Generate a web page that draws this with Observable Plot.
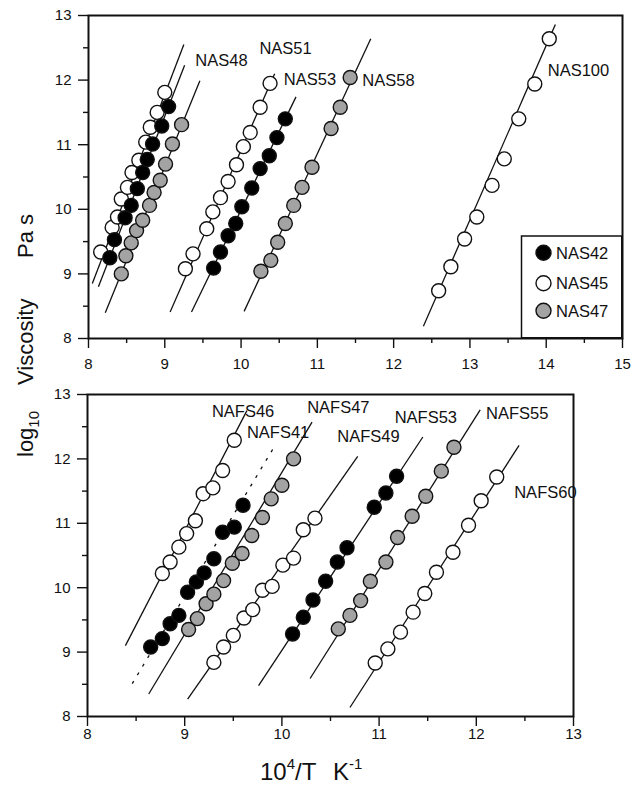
<!DOCTYPE html>
<html><head><meta charset="utf-8">
<script src="https://cdn.jsdelivr.net/npm/d3@7"></script>
<script src="https://cdn.jsdelivr.net/npm/@observablehq/plot@0.6"></script>
<style>
body{margin:0;background:#fff;font-family:"Liberation Sans",Arial,sans-serif;}
#wrap{position:relative;width:632px;height:785px;overflow:hidden;background:#fff}
#top{position:absolute;left:0;top:0}
#bot{position:absolute;left:0;top:368px}
#anno{position:absolute;left:0;top:0;pointer-events:none}
</style></head><body>
<div id="wrap"><div id="top"></div><div id="bot"></div>
<svg id="anno" width="632" height="785" font-family="Liberation Sans, Arial, sans-serif"></svg>
</div>
<script>
// ---------- top panel data (10^4/T, log10 viscosity) ----------
const NAS42 = [[8.28,9.25],[8.34,9.53],[8.48,9.87],[8.56,10.06],[8.64,10.32],[8.71,10.57],[8.77,10.77],[8.84,11.01],[8.96,11.29],[9.05,11.59]];
const NAS45 = [[8.16,9.34],[8.31,9.72],[8.38,9.88],[8.43,10.16],[8.51,10.34],[8.57,10.57],[8.66,10.76],[8.75,11.04],[8.81,11.27],[8.90,11.50],[9.00,11.81]];
const NAS47 = [[8.43,9.00],[8.49,9.28],[8.56,9.48],[8.63,9.67],[8.71,9.83],[8.80,10.06],[8.86,10.26],[8.94,10.45],[9.01,10.70],[9.10,11.01],[9.22,11.31]];
const NAS51 = [[9.27,9.08],[9.37,9.31],[9.55,9.70],[9.63,9.96],[9.73,10.18],[9.83,10.43],[9.94,10.69],[10.03,10.97],[10.12,11.19],[10.25,11.58],[10.38,11.95]];
const NAS53 = [[9.64,9.09],[9.73,9.34],[9.83,9.59],[9.93,9.78],[10.01,10.04],[10.14,10.33],[10.25,10.63],[10.37,10.83],[10.47,11.11],[10.58,11.40]];
const NAS58 = [[10.26,9.04],[10.39,9.21],[10.48,9.49],[10.58,9.78],[10.69,10.06],[10.80,10.34],[10.93,10.65],[11.18,11.25],[11.30,11.58],[11.43,12.04]];
const NAS100 = [[12.59,8.74],[12.75,9.11],[12.93,9.54],[13.09,9.88],[13.29,10.37],[13.45,10.78],[13.64,11.40],[13.85,11.94],[14.04,12.64]];
const topSeries = [
  {name:"NAS45", kind:"open",  pts:NAS45},
  {name:"NAS47", kind:"grey",  pts:NAS47},
  {name:"NAS42", kind:"solid", pts:NAS42},
  {name:"NAS51", kind:"open",  pts:NAS51},
  {name:"NAS53", kind:"solid", pts:NAS53},
  {name:"NAS58", kind:"grey",  pts:NAS58},
  {name:"NAS100",kind:"open",  pts:NAS100}
];
// fitted lines: [x1, y1, x2, y2]
const topFits = [
  [8.05,8.85,9.25,12.55],
  [8.13,8.80,9.26,12.23],
  [8.22,8.40,9.46,11.99],
  [9.07,8.41,10.44,12.10],
  [9.35,8.41,10.72,11.74],
  [10.04,8.42,11.70,12.64],
  [12.39,8.19,14.12,12.86]
];
const topLabels = [["NAS48",9.40,12.30],["NAS51",10.24,12.49],["NAS53",10.56,12.01],["NAS58",11.59,11.99],["NAS100",14.02,12.15]];
const topXTicks = [8,9,10,11,12,13,14,15];

// ---------- bottom panel data ----------
const NAFS46 = [[8.77,10.22],[8.85,10.40],[8.94,10.63],[9.02,10.84],[9.11,11.04],[9.19,11.46],[9.29,11.55],[9.39,11.82],[9.51,12.29]];
const NAFS41 = [[8.65,9.08],[8.77,9.21],[8.85,9.44],[8.94,9.57],[9.03,9.93],[9.12,10.09],[9.20,10.23],[9.30,10.45],[9.39,10.86],[9.51,10.94],[9.60,11.28]];
const NAFS47 = [[9.04,9.35],[9.13,9.52],[9.22,9.75],[9.30,9.90],[9.40,10.11],[9.49,10.38],[9.59,10.53],[9.69,10.81],[9.80,11.09],[9.89,11.38],[10.00,11.59],[10.12,12.00]];
const NAFS49 = [[9.30,8.84],[9.40,9.08],[9.50,9.26],[9.61,9.53],[9.70,9.66],[9.80,9.96],[9.90,10.02],[10.01,10.35],[10.12,10.46],[10.22,10.90],[10.34,11.08]];
const NAFS53 = [[10.11,9.28],[10.22,9.54],[10.32,9.81],[10.45,10.10],[10.57,10.40],[10.67,10.62],[10.95,11.25],[11.07,11.47],[11.18,11.73]];
const NAFS55 = [[10.58,9.36],[10.70,9.57],[10.81,9.80],[10.91,10.10],[11.07,10.40],[11.19,10.78],[11.34,11.11],[11.48,11.42],[11.64,11.81],[11.77,12.18]];
const NAFS60 = [[10.96,8.83],[11.09,9.05],[11.22,9.31],[11.35,9.62],[11.47,9.91],[11.59,10.24],[11.76,10.55],[11.92,10.97],[12.05,11.35],[12.21,11.72]];
const botSeries = [
  {name:"NAFS46", kind:"open",  pts:NAFS46},
  {name:"NAFS41", kind:"solid", pts:NAFS41},
  {name:"NAFS47", kind:"grey",  pts:NAFS47},
  {name:"NAFS49", kind:"open",  pts:NAFS49},
  {name:"NAFS53", kind:"solid", pts:NAFS53},
  {name:"NAFS55", kind:"grey",  pts:NAFS55},
  {name:"NAFS60", kind:"open",  pts:NAFS60}
];
const botFits = [
  [8.39,9.10,9.64,12.75],
  [8.63,8.35,10.31,12.57],
  [9.03,8.27,10.78,12.04],
  [9.76,8.48,11.45,12.34],
  [10.29,8.59,12.04,12.76],
  [10.70,8.14,12.44,12.21]
];
const botDotted = [[8.46,8.51,9.93,12.21]];
const botLabels = [["NAFS46",9.28,12.73],["NAFS41",9.64,12.41],["NAFS47",10.26,12.80],["NAFS49",10.57,12.34],["NAFS53",11.16,12.64],["NAFS55",12.10,12.70],["NAFS60",12.39,11.47]];
const botXTicks = [8,9,10,11,12,13];
const yTicks = [8,9,10,11,12,13];
const legendItems = [["NAS42","solid"],["NAS45","open"],["NAS47","grey"]];

const FILL = {solid:"#000000", open:"#ffffff", grey:"#a3a3a3"};
const FONT = "Liberation Sans, Arial, sans-serif";

function rows(series){ return series.flatMap(s => s.pts.map(([x,y]) => ({x, y, kind:s.kind, name:s.name}))); }
function fitRows(f){ return f.map(([x1,y1,x2,y2]) => ({x1,y1,x2,y2})); }
function labRows(l){ return l.map(([t,x,y]) => ({t,x,y})); }

function panel(o){
  const majors = o.xTicks;
  const minors = majors.slice(0,-1).map(v => v + 0.5);
  const yMinor = yTicks.slice(0,-1).map(v => v + 0.5);
  const marks = [
    Plot.link(fitRows(o.fits), {x1:"x1",y1:"y1",x2:"x2",y2:"y2", stroke:"#111", strokeWidth:1.3}),
  ];
  if (o.dotted) marks.push(Plot.link(fitRows(o.dotted), {x1:"x1",y1:"y1",x2:"x2",y2:"y2", stroke:"#111", strokeWidth:1.3, strokeDasharray:"3,7"}));
  marks.push(
    Plot.dot(rows(o.series), {x:"x", y:"y", r:7, fill:d => FILL[d.kind], stroke:"#111", strokeWidth:1.4}),
    Plot.text(labRows(o.labels), {x:"x", y:"y", text:"t", textAnchor:"start", fontSize:16.5, fill:"#111", fontFamily:FONT}),
    Plot.axisX({ticks:minors, tickSize:5, tickFormat:() => "", strokeWidth:1.4, label:null}),
    Plot.axisX({ticks:majors, tickSize:10, tickPadding:o.xPad, strokeWidth:1.4, tickFormat:d => String(d), label:null}),
    Plot.axisY({ticks:yMinor, tickSize:5, tickFormat:() => "", strokeWidth:1.4, label:null}),
    Plot.axisY({ticks:yTicks, tickSize:10, tickPadding:7, strokeWidth:1.4, tickFormat:d => String(d), label:null}),
    Plot.frame({stroke:"#111", strokeWidth:2})
  );
  return Plot.plot({
    width:632, height:o.height,
    marginTop:o.mt, marginBottom:o.mb, marginLeft:o.ml, marginRight:o.mr,
    x:{domain:o.xDomain}, y:{domain:[8,13]},
    color:{type:"identity"},
    style:{fontFamily:FONT, fontSize:"15px", color:"#111", background:"transparent", overflow:"visible"},
    marks
  });
}

document.getElementById("top").append(panel({
  xDomain:[8,15], xTicks:topXTicks, series:topSeries, fits:topFits, labels:topLabels,
  height:368, mt:15, mb:30, ml:88, mr:10, xPad:10
}));
document.getElementById("bot").append(panel({
  xDomain:[8,13], xTicks:botXTicks, series:botSeries, fits:botFits, dotted:botDotted, labels:botLabels,
  height:417, mt:26, mb:69, ml:87, mr:59, xPad:2
}));

// ---------- annotations: legend and axis titles ----------
const svg = d3.select("#anno");
const lg = svg.append("g");
lg.append("rect").attr("x",521.5).attr("y",236).attr("width",100.5).attr("height",102)
  .attr("fill","#fff").attr("stroke","#111").attr("stroke-width",1.5);
const legendY = [252.7, 283.3, 310.7];
legendItems.forEach(([name,kind],i) => {
  lg.append("circle").attr("cx",543.5).attr("cy",legendY[i]).attr("r",7.5)
    .attr("fill",FILL[kind]).attr("stroke","#111").attr("stroke-width",1.4);
  lg.append("text").attr("x",556).attr("y",legendY[i]+6).attr("font-size",16.5).attr("fill","#111").text(name);
});
lg.append("line").attr("x1",622).attr("x2",622).attr("y1",236).attr("y2",339).attr("stroke","#111").attr("stroke-width",2);
lg.append("line").attr("x1",521).attr("x2",623).attr("y1",338).attr("y2",338).attr("stroke","#111").attr("stroke-width",2);

// y title (rotated)
function rot(y, build){
  const t = svg.append("text").attr("transform",`translate(33,${y}) rotate(-90)`)
    .attr("font-size",22).attr("fill","#111");
  build(t);
}
rot(457, t => { t.append("tspan").text("log"); t.append("tspan").attr("font-size",15).attr("dy",6).text("10"); });
rot(385, t => t.text("Viscosity"));
rot(258, t => t.text("Pa s"));

// x title
const xt = svg.append("text").attr("x",260).attr("y",780).attr("font-size",24).attr("fill","#111");
xt.append("tspan").text("10");
xt.append("tspan").attr("font-size",15).attr("dy",-11).text("4");
xt.append("tspan").attr("dy",11).text("/T");
xt.append("tspan").attr("x",333).text("K");
xt.append("tspan").attr("font-size",15).attr("dy",-11).text("-1");
</script>
</body></html>
